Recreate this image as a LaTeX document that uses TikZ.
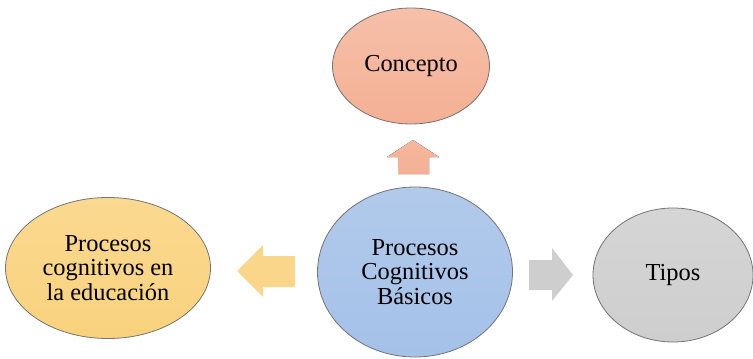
\documentclass[tikz,border=0pt]{standalone}
\usepackage{fontspec}
\setmainfont{Liberation Serif}
\usetikzlibrary{shapes.geometric}

\definecolor{salmon}{RGB}{244,176,148}
\definecolor{celeste}{RGB}{164,193,232}
\definecolor{amarillo}{RGB}{249,210,125}
\definecolor{gris}{RGB}{206,206,206}

\begin{document}
\begin{tikzpicture}[x=0.5pt,y=-0.5pt]
          \tikzstyle{every node} = [draw=black!55, ellipse, inner sep=0pt, align=center,
            font=\fontsize{12.2}{12.4}\selectfont];
          \useasboundingbox (0,0) rectangle (753,358);
          \node[top color=salmon!80!white, bottom color=salmon, minimum width=78.5pt, minimum height=58pt](concepto) at (411,66) {Concepto};
          \node[top color=celeste!85!white, bottom color=celeste, minimum width=97.5pt, minimum height=85pt](basicos) at (415,272) {Procesos\\Cognitivos\\B\'asicos};
          \node[top color=amarillo!85!white, bottom color=amarillo, minimum width=102.5pt, minimum height=70.5pt](educacion) at (108,268) {Procesos\\cognitivos en\\la educaci\'on};
          \node[top color=gris!85!white, bottom color=gris, minimum width=80pt, minimum height=67pt](tipos) at (673,275) {Tipos};
          \tikzstyle{every node} = []
          % flechas
          \fill[top color=salmon!90!white, bottom color=salmon] (398,174) -- (398,157) -- (387,157) -- (413,140) -- (439,157) -- (429,157) -- (429,174) -- cycle;
          \fill[amarillo!90!white] (295,256) -- (263,256) -- (263,245) -- (237,271) -- (263,297) -- (263,287) -- (295,287) -- cycle;
          \fill[gris] (529,260) -- (552,260) -- (552,248) -- (573,275) -- (552,301) -- (552,290) -- (529,290) -- cycle;
\end{tikzpicture}
\end{document}
